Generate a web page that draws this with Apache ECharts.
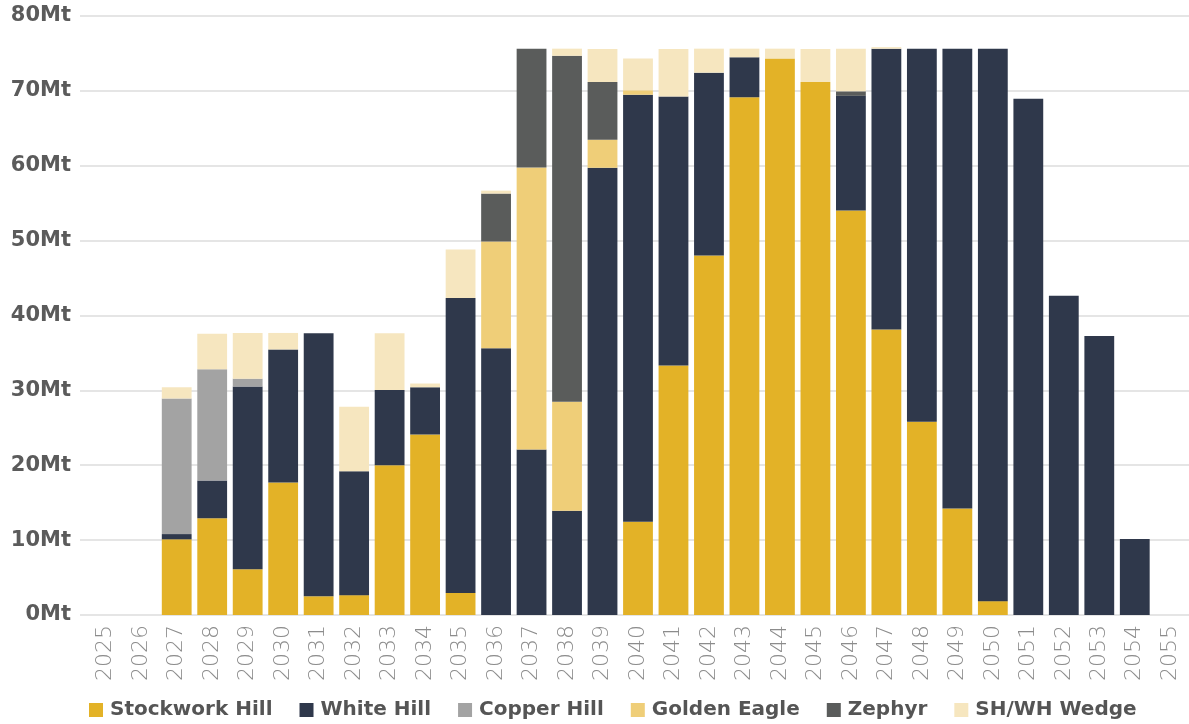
<!DOCTYPE html>
<html>
<head>
<meta charset="utf-8">
<script src="https://cdn.jsdelivr.net/npm/echarts@6/dist/echarts.min.js"></script>
<style>
html,body{margin:0;padding:0;background:#fff;}
#chart{width:1189px;height:724px;}
</style>
</head>
<body>
<div id="chart"></div>
<script>
var years = ['2025','2026','2027','2028','2029','2030','2031','2032','2033','2034','2035','2036','2037','2038','2039','2040','2041','2042','2043','2044','2045','2046','2047','2048','2049','2050','2051','2052','2053','2054','2055'];
var stockworkHill = [0,0,10.1,12.9,6.1,17.7,2.5,2.65,20.0,24.1,2.95,0,0,0,0,12.45,33.3,48.0,69.1,74.3,71.15,54.0,38.1,25.8,14.2,1.85,0,0,0,0,0];
var whiteHill     = [0,0,0.7,5.05,24.4,17.75,35.1,16.55,10.05,6.3,39.35,35.6,22.1,13.9,59.7,57.0,35.9,24.4,5.35,0,0,15.3,37.5,49.8,61.4,73.75,68.9,42.6,37.25,10.15,0];
var copperHill    = [0,0,18.1,14.85,1.05,0,0,0,0,0,0,0,0,0,0,0,0,0,0,0,0,0,0,0,0,0,0,0,0,0,0];
var goldenEagle   = [0,0,0,0,0,0,0,0,0,0,0,14.25,37.65,14.55,3.75,0.6,0,0,0,0,0,0,0,0,0,0,0,0,0,0,0];
var zephyr        = [0,0,0,0,0,0,0,0,0,0,0,6.4,15.85,46.2,7.7,0,0,0,0,0,0,0.6,0,0,0,0,0,0,0,0,0];
var wedge         = [0,0,1.5,4.75,6.1,2.2,0,8.6,7.55,0.5,6.5,0.4,0,0.95,4.4,4.25,6.35,3.2,1.15,1.3,4.4,5.7,0.2,0,0,0,0,0,0,0,0];
var yTicks = [0,10,20,30,40,50,60,70,80];

var seriesDefs = [
  {name:'Stockwork Hill', data:stockworkHill, color:'#E3B227'},
  {name:'White Hill', data:whiteHill, color:'#2F384B'},
  {name:'Copper Hill', data:copperHill, color:'#A3A3A3'},
  {name:'Golden Eagle', data:goldenEagle, color:'#EFCE78'},
  {name:'Zephyr', data:zephyr, color:'#5A5C5B'},
  {name:'SH/WH Wedge', data:wedge, color:'#F6E6BF'}
];

var chart = echarts.init(document.getElementById('chart'), null, {renderer:'canvas'});
var option = {
  animation:false,
  backgroundColor:'#ffffff',
  legend:{
    left:84, top:695,
    icon:'rect', itemWidth:14, itemHeight:14, itemGap:27,
    textStyle:{fontFamily:'DejaVu Sans', fontWeight:'bold', fontSize:20, color:'#555555', padding:[0,0,0,2]},
    data:seriesDefs.map(function(s){return s.name;})
  },
  grid:[
    {left:80, right:0, top:15.7, bottom:109, containLabel:false},
    {left:88, right:1, top:15.7, bottom:109, containLabel:false}
  ],
  xAxis:[
    {type:'category', gridIndex:0, data:years, show:false},
    {type:'category', gridIndex:1, data:years,
     axisLine:{show:false}, axisTick:{show:false},
     axisLabel:{rotate:90, interval:0, margin:10, fontFamily:'DejaVu Sans', fontWeight:200, fontSize:22, color:'#8c8c8c'}}
  ],
  yAxis:[
    {type:'value', gridIndex:0, min:0, max:80, interval:10,
     axisLine:{show:false}, axisTick:{show:false},
     splitLine:{lineStyle:{color:'#dcdcdc', width:1.5}},
     axisLabel:{margin:9, fontFamily:'DejaVu Sans', fontWeight:'bold', fontSize:21, color:'#5b5b5b',
       formatter:function(v){return v+'Mt';}}},
    {type:'value', gridIndex:1, min:0, max:80, interval:10, show:false, splitLine:{show:false}}
  ],
  series:seriesDefs.map(function(s){
    return {
      name:s.name, type:'bar', stack:'total', xAxisIndex:1, yAxisIndex:1,
      barCategoryGap:'16%',
      itemStyle:{color:s.color},
      emphasis:{disabled:true},
      data:s.data
    };
  })
};
chart.setOption(option);
</script>
</body>
</html>
